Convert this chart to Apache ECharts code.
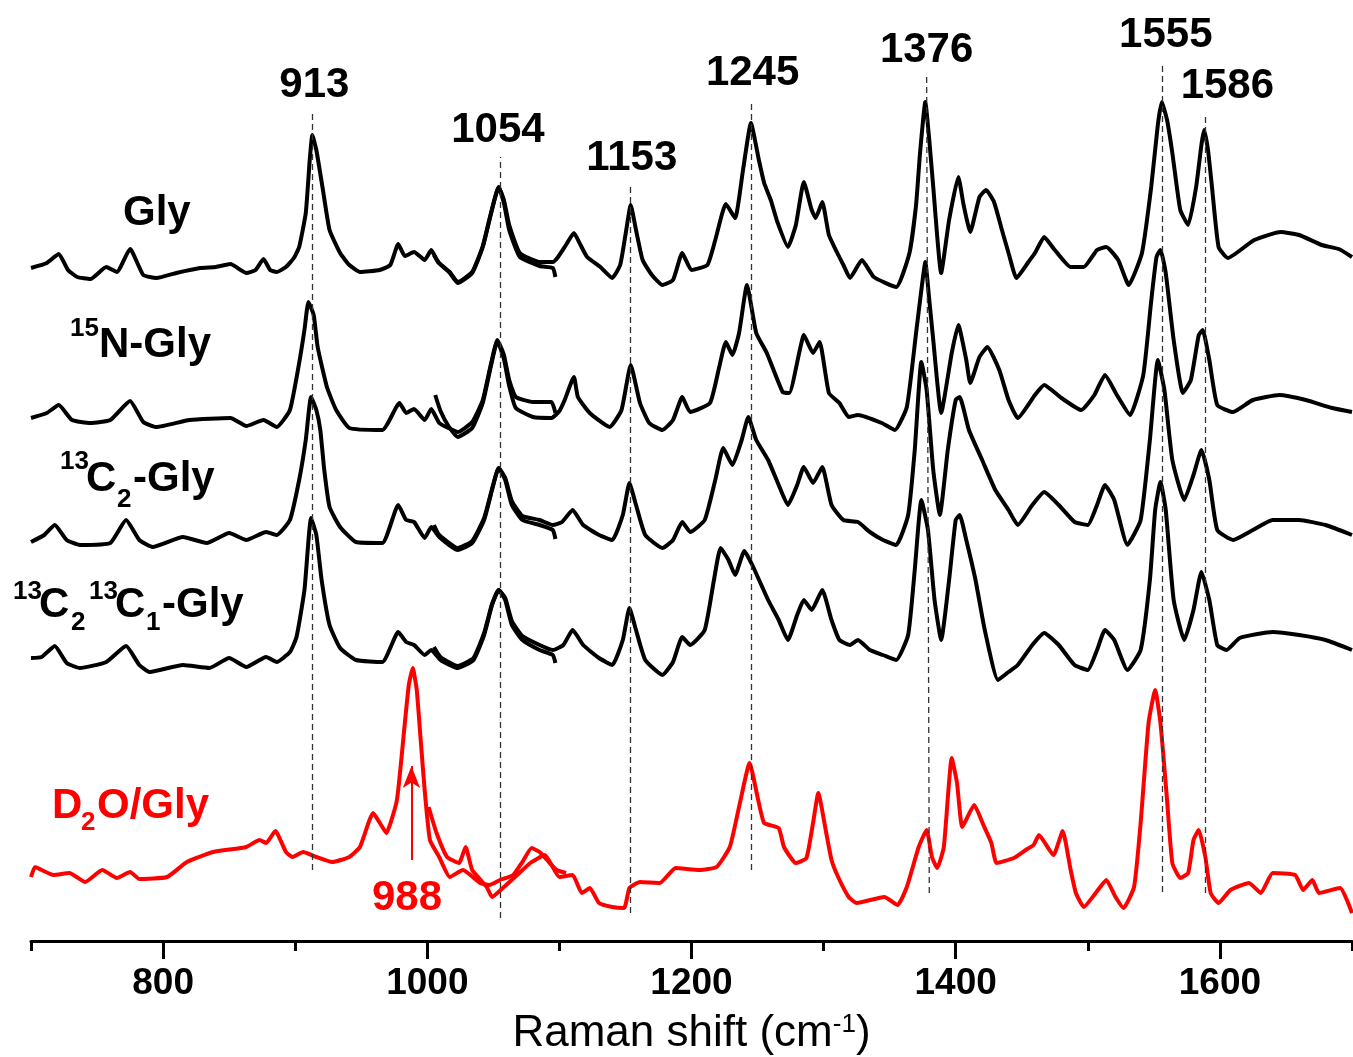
<!DOCTYPE html>
<html>
<head>
<meta charset="utf-8">
<script src="https://cdn.jsdelivr.net/npm/echarts@6/dist/echarts.min.js"></script>
<style>
html, body { margin: 0; padding: 0; background: #fff; }
#main { width: 1353px; height: 1057px; }
</style>
</head>
<body>
<div id="main"></div>
<script>
// Raman spectra, offset intensities (a.u.).
// Each spectrum was recorded in two windows (A: up to ~1100, B: from ~1000) that overlap.
const glyA = [[700,673],[712,678],[721,687],[728,671],[735,664],[745,662],[757,674],[765,669],[775,692],[785,666],[795,663],[810,668],[828,673],[840,674],[851,677],[863,668],[870,671],[876,682],[881,671],[886,669],[893,674],[899,683],[903,694],[908,728],[911,781],[913,806],[916,791],[921,751],[926,711],[934,688],[941,676],[949,669],[964,671],[972,676],[978,697],[983,685],[990,689],[998,681],[1003,691],[1008,679],[1017,668],[1023,658],[1034,668],[1042,694],[1048,726],[1054,754],[1058,738],[1062,711],[1070,684],[1085,675],[1095,673],[1097,664]];
const glyB = [[1005,686],[1009,678],[1017,669],[1023,659],[1034,669],[1042,695],[1048,727],[1054,754],[1058,741],[1062,716],[1070,688],[1085,679],[1095,679],[1099,684],[1105,696],[1111,708],[1116,696],[1121,684],[1131,674],[1140,663],[1146,676],[1150,706],[1154,736],[1158,711],[1163,681],[1170,666],[1178,656],[1186,661],[1193,688],[1200,671],[1212,676],[1218,701],[1226,737],[1233,723],[1239,771],[1245,818],[1251,781],[1255,758],[1260,741],[1265,719],[1273,694],[1279,716],[1285,759],[1291,731],[1294,723],[1299,739],[1304,706],[1310,689],[1315,676],[1320,663],[1329,681],[1338,664],[1355,654],[1365,688],[1370,736],[1373,788],[1377,839],[1380,801],[1383,754],[1389,668],[1395,721],[1402,764],[1406,736],[1411,709],[1418,744],[1423,751],[1429,739],[1435,711],[1440,688],[1446,663],[1455,679],[1460,688],[1467,704],[1475,691],[1487,674],[1497,674],[1507,691],[1514,694],[1523,681],[1531,656],[1541,688],[1548,754],[1553,816],[1556,839],[1560,821],[1564,788],[1570,731],[1576,716],[1582,754],[1586,796],[1588,811],[1591,791],[1594,754],[1599,694],[1606,683],[1626,701],[1646,709],[1660,706],[1677,696],[1690,692],[1700,684]];

const n15A = [[700,523],[712,528],[721,536],[731,521],[745,518],[760,521],[775,540],[785,519],[795,514],[820,521],[851,523],[863,515],[876,521],[886,514],[896,531],[903,578],[907,611],[910,639],[914,626],[917,594],[924,554],[931,531],[941,513],[966,511],[979,538],[984,528],[990,532],[998,521],[1003,532],[1009,518],[1016,513],[1023,509],[1034,519],[1042,541],[1048,576],[1053,601],[1058,586],[1062,561],[1067,544],[1080,539],[1094,539],[1097,528]];
const n15B = [[1006,546],[1010,530],[1016,515],[1023,504],[1034,513],[1042,538],[1048,574],[1053,600],[1058,582],[1062,555],[1067,533],[1080,524],[1094,523],[1100,530],[1104,541],[1111,564],[1114,544],[1123,528],[1138,514],[1147,531],[1154,576],[1161,538],[1168,518],[1178,511],[1186,521],[1193,544],[1199,529],[1214,538],[1221,574],[1226,599],[1231,586],[1236,608],[1242,656],[1249,608],[1257,588],[1269,549],[1274,548],[1282,591],[1285,606],[1292,588],[1297,599],[1304,548],[1312,538],[1319,524],[1326,526],[1344,518],[1354,511],[1363,534],[1370,608],[1374,651],[1377,679],[1380,641],[1383,601],[1389,528],[1397,588],[1402,616],[1408,581],[1411,558],[1418,584],[1424,594],[1433,571],[1440,541],[1447,523],[1460,546],[1467,556],[1480,543],[1495,531],[1505,546],[1513,566],[1522,546],[1532,526],[1542,566],[1548,640],[1552,684],[1555,691],[1559,668],[1565,601],[1572,548],[1578,561],[1584,606],[1587,611],[1592,581],[1598,536],[1610,529],[1625,541],[1645,546],[1665,541],[1685,533],[1700,529]];

const c13A = [[700,399],[710,406],[718,416],[727,401],[737,396],[760,398],[772,421],[782,401],[792,394],[815,404],[833,398],[850,408],[863,401],[878,409],[886,406],[896,421],[903,461],[908,501],[912,544],[916,531],[919,511],[922,471],[926,434],[934,414],[946,399],[966,398],[978,436],[984,421],[990,419],[998,403],[1003,414],[1009,404],[1023,391],[1034,398],[1043,421],[1049,451],[1054,473],[1059,461],[1064,436],[1072,421],[1085,416],[1095,411],[1097,402]];
const c13B = [[1005,416],[1009,406],[1023,393],[1034,400],[1043,423],[1049,452],[1054,473],[1059,463],[1064,440],[1072,425],[1085,421],[1095,416],[1102,419],[1110,431],[1118,416],[1130,406],[1140,401],[1148,426],[1153,458],[1158,436],[1165,406],[1178,393],[1186,401],[1193,419],[1199,409],[1210,421],[1218,461],[1224,493],[1231,476],[1238,501],[1243,524],[1249,501],[1258,481],[1266,456],[1273,436],[1280,456],[1285,474],[1292,458],[1299,474],[1306,436],[1315,421],[1326,419],[1335,409],[1345,401],[1355,396],[1364,426],[1369,491],[1374,579],[1378,551],[1383,471],[1388,426],[1394,491],[1400,541],[1403,544],[1410,511],[1420,481],[1430,451],[1440,431],[1447,416],[1458,436],[1467,449],[1478,436],[1490,419],[1500,416],[1507,436],[1513,456],[1520,441],[1530,396],[1540,421],[1547,501],[1553,581],[1558,551],[1564,481],[1573,441],[1580,466],[1586,491],[1592,461],[1598,411],[1610,401],[1625,411],[1640,421],[1660,421],[1680,416],[1700,406]];

const cc13A = [[700,283],[708,284],[718,295],[727,278],[737,273],[757,279],[772,295],[782,276],[790,269],[815,276],[835,273],[850,283],[863,274],[878,284],[886,279],[896,289],[901,304],[907,351],[912,423],[916,406],[920,361],[926,316],[934,293],[946,281],[966,279],[978,309],[984,299],[990,296],[998,286],[1003,291],[1010,281],[1023,273],[1035,281],[1043,306],[1049,336],[1054,351],[1059,341],[1064,316],[1072,301],[1085,291],[1095,286],[1097,278]];
const cc13B = [[1005,294],[1010,284],[1023,275],[1035,283],[1043,308],[1049,337],[1054,351],[1059,343],[1064,320],[1072,305],[1085,296],[1095,291],[1103,296],[1110,311],[1118,296],[1130,283],[1140,276],[1148,301],[1153,333],[1158,311],[1165,281],[1178,266],[1186,279],[1193,304],[1199,296],[1210,311],[1217,361],[1222,393],[1228,381],[1233,366],[1240,390],[1246,376],[1258,341],[1266,321],[1273,301],[1280,326],[1285,341],[1291,331],[1299,351],[1306,321],[1312,301],[1320,296],[1326,301],[1335,291],[1345,286],[1355,281],[1364,306],[1369,371],[1374,441],[1379,411],[1384,341],[1389,301],[1395,361],[1400,421],[1403,426],[1408,401],[1415,361],[1422,311],[1432,261],[1440,269],[1447,276],[1458,296],[1467,308],[1478,296],[1490,276],[1500,271],[1507,291],[1513,311],[1520,301],[1530,271],[1540,291],[1547,361],[1551,431],[1555,459],[1559,431],[1565,341],[1573,301],[1580,331],[1586,369],[1592,341],[1598,296],[1605,291],[1615,303],[1640,309],[1660,306],[1680,301],[1700,291]];

const d2oA = [[700,64],[703,74],[708,71],[717,66],[729,68],[741,59],[754,71],[765,63],[775,69],[782,62],[803,64],[818,79],[838,89],[863,94],[873,101],[878,98],[885,110],[893,89],[898,84],[906,89],[916,84],[928,79],[941,84],[949,94],[959,128],[965,116],[969,108],[977,141],[983,218],[986,256],[989,273],[992,251],[995,201],[998,151],[1002,101],[1009,84],[1017,64],[1027,71],[1040,58],[1047,56],[1055,61],[1065,66],[1072,79],[1079,93],[1085,89],[1092,79],[1098,71],[1105,68]];
const d2oB = [[1001,134],[1007,108],[1015,84],[1024,78],[1029,94],[1034,71],[1045,54],[1049,44],[1058,54],[1068,66],[1078,78],[1089,86],[1100,64],[1110,66],[1117,48],[1123,53],[1130,38],[1140,34],[1149,33],[1153,53],[1161,59],[1176,58],[1188,73],[1206,71],[1219,74],[1229,94],[1236,134],[1244,178],[1250,144],[1255,118],[1266,113],[1270,94],[1279,78],[1287,83],[1292,118],[1296,148],[1302,108],[1306,81],[1311,64],[1319,44],[1325,38],[1346,44],[1356,36],[1363,54],[1372,94],[1378,111],[1382,84],[1386,73],[1391,94],[1397,183],[1401,158],[1405,114],[1414,136],[1421,116],[1427,98],[1431,78],[1444,83],[1453,91],[1459,96],[1463,106],[1474,86],[1481,110],[1487,71],[1491,48],[1497,34],[1506,48],[1514,61],[1521,44],[1527,33],[1535,54],[1540,118],[1546,218],[1551,251],[1555,218],[1560,141],[1564,78],[1570,63],[1576,68],[1580,101],[1584,111],[1589,84],[1593,48],[1599,38],[1608,51],[1622,58],[1631,48],[1640,68],[1657,66],[1663,51],[1670,61],[1675,48],[1691,53],[1700,28]];

// peak markers (dashed guide lines)
const peakLabels = ['913', '1054', '1153', '1245', '1376', '1555', '1586'];
const peakTopX = [913, 1055, 1154, 1245.5, 1378, 1556, 1589];
const peakBottomX = [913, 1055, 1154, 1245.5, 1380, 1556, 1589];
const peakTop = [829, 784, 756, 841, 864, 879, 828];
const peakBottom = [71, 23, 28, 71, 48, 49, 48];
const peakLabelDx = [2, -2, 1, 1, 0, 4, 22];

const majorTicks = [800, 1000, 1200, 1400, 1600];
const minorTicks = [700, 900, 1100, 1300, 1500, 1700];

const arrowX = 988;
const arrowFrom = 81;
const arrowTo = 175;

const FONT = '"Liberation Sans", Arial, sans-serif';

const myChart = echarts.init(document.getElementById('main'));

function spectrum(data, color) {
    return {
        type: 'line',
        data: data,
        showSymbol: false,
        smooth: 0.15,
        xAxisIndex: 0,
        lineStyle: { color: color, width: 4 },
        silent: true,
        z: 3
    };
}

function piece(text, x, y, size, color) {
    return {
        type: 'text',
        x: x,
        y: y,
        silent: true,
        style: {
            text: text,
            fill: color || '#000',
            fontSize: size,
            fontWeight: 'bold',
            fontFamily: FONT,
            align: 'left',
            verticalAlign: 'middle',
            textAlign: 'left',
            textVerticalAlign: 'middle'
        }
    };
}

const peakLines = peakLabels.map((lab, i) => [
    { coord: [peakBottomX[i], peakBottom[i]] },
    { name: lab, coord: [peakTopX[i], peakTop[i]], label: { offset: [peakLabelDx[i], 0] } }
]);

let option = {
    animation: false,
    backgroundColor: '#fff',
    grid: {
        left: 31,
        right: 1,
        top: 0,
        bottom: 116,
        containLabel: false,
        outerBoundsMode: 'none'
    },
    xAxis: [{
        type: 'value',
        min: 700,
        max: 1700,
        position: 'bottom',
        axisLine: { lineStyle: { color: '#000', width: 3 } },
        axisTick: {
            customValues: majorTicks,
            length: 18,
            lineStyle: { color: '#000', width: 3 }
        },
        axisLabel: {
            customValues: majorTicks,
            formatter: (v) => String(v),
            fontSize: 37,
            fontWeight: 'bold',
            fontFamily: FONT,
            color: '#000',
            margin: 24
        },
        splitLine: { show: false },
        name: 'Raman shift (cm{sup|-1})',
        nameLocation: 'middle',
        nameGap: 93,
        nameTextStyle: {
            fontSize: 44,
            fontFamily: FONT,
            color: '#000',
            verticalAlign: 'middle',
            rich: {
                sup: { fontSize: 26, fontFamily: FONT, color: '#000', verticalAlign: 'top', lineHeight: 24 }
            }
        }
    }, {
        type: 'value',
        min: 700,
        max: 1700,
        position: 'bottom',
        axisLine: { show: false },
        axisTick: {
            customValues: minorTicks,
            length: 10,
            lineStyle: { color: '#000', width: 3 }
        },
        axisLabel: { show: false },
        splitLine: { show: false }
    }],
    yAxis: {
        type: 'value',
        min: 0,
        max: 941,
        show: false
    },
    series: [
        {
            type: 'line',
            data: [[700, -50]],
            showSymbol: false,
            lineStyle: { opacity: 0 },
            silent: true,
            z: 1,
            markLine: {
                silent: true,
                symbol: ['none', 'none'],
                lineStyle: { color: '#333', width: 1.3, type: [6, 4] },
                label: {
                    show: true,
                    position: 'end',
                    formatter: '{b}',
                    distance: 6,
                    fontSize: 42,
                    fontWeight: 'bold',
                    fontFamily: FONT,
                    color: '#000'
                },
                data: peakLines
            }
        },
        spectrum(glyA, '#000'),
        spectrum(glyB, '#000'),
        spectrum(n15A, '#000'),
        spectrum(n15B, '#000'),
        spectrum(c13A, '#000'),
        spectrum(c13B, '#000'),
        spectrum(cc13A, '#000'),
        spectrum(cc13B, '#000'),
        spectrum(d2oA, '#ff0000'),
        Object.assign(spectrum(d2oB, '#ff0000'), {
            markLine: {
                silent: true,
                symbol: ['none', 'arrow'],
                symbolSize: [13, 22],
                lineStyle: { color: '#ff0000', width: 2, type: 'solid' },
                label: { show: false },
                data: [[{ coord: [arrowX, arrowFrom] }, { coord: [arrowX, arrowTo] }]]
            }
        })
    ],
    graphic: [
        piece('Gly', 123, 213, 42),
        piece('15', 70, 329, 26),
        piece('N-Gly', 99, 345, 42),
        piece('13', 60, 462, 26),
        piece('C', 86, 479, 42),
        piece('2', 117, 500, 26),
        piece('-Gly', 133, 479, 42),
        piece('13', 13, 592, 26),
        piece('C', 39, 605, 42),
        piece('2', 71, 623, 26),
        piece('13', 89, 592, 26),
        piece('C', 115, 605, 42),
        piece('1', 146, 623, 26),
        piece('-Gly', 162, 605, 42),
        piece('D', 52, 806, 42, '#ff0000'),
        piece('2', 81, 823, 26, '#ff0000'),
        piece('O/Gly', 97, 806, 42, '#ff0000'),
        piece('988', 372, 898, 42, '#ff0000')
    ]
};
myChart.setOption(option);
</script>
</body>
</html>
